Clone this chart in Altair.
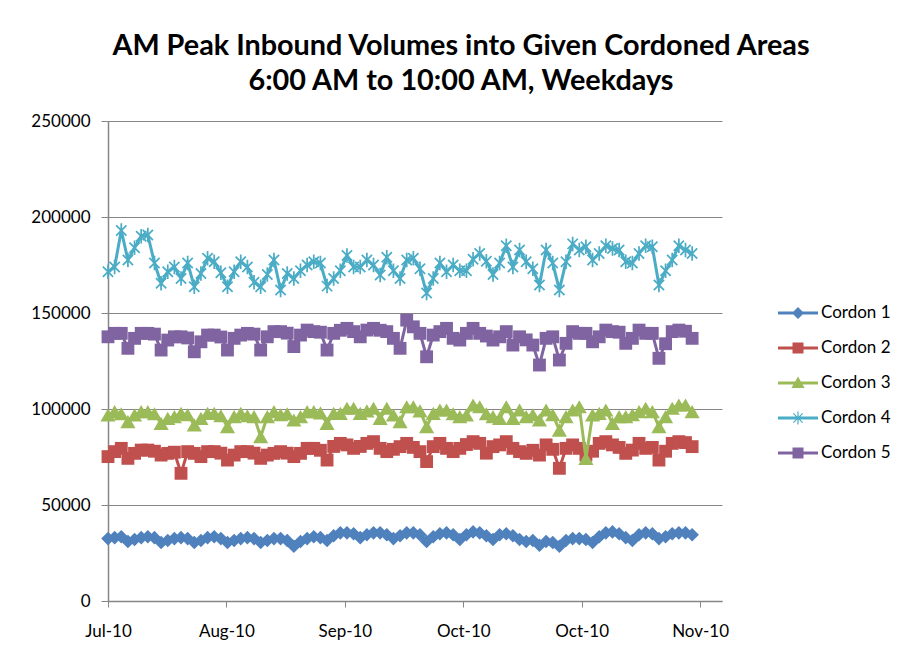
import json
import altair as alt
import pandas as pd

SERIES = ["Cordon 1", "Cordon 2", "Cordon 3", "Cordon 4", "Cordon 5"]
COLORS = ["#4F81BD", "#C0504D", "#9BBB59", "#4BACC6", "#8064A2"]

X_LABELS = ["Jul-10", "Aug-10", "Sep-10", "Oct-10", "Oct-10", "Nov-10"]
X_TICK_STEP = 17.84
X_TICKS = [0, 17.84, 35.68, 53.52, 71.36, 89.2]
Y_TICKS = [0, 50000, 100000, 150000, 200000, 250000]

CORDON_1 = [32500, 33000, 33500, 31000, 32000, 33000, 33500, 33000, 30500, 31500,
            32500, 33000, 32500, 30500, 31500, 33000, 33500, 32500, 30500, 31500,
            32500, 33000, 32500, 30500, 31500, 32500, 32500, 31500, 28500, 31000,
            32500, 33500, 33000, 31500, 34000, 35500, 35500, 35000, 33000, 34500,
            35500, 35500, 34500, 32500, 34000, 35500, 35500, 34500, 31000, 33500,
            35000, 35500, 34500, 32000, 34500, 36000, 35500, 34000, 32000, 34500,
            35000, 34000, 32000, 31000, 31500, 29000, 31000, 30500, 28500, 31500,
            32500, 32500, 32000, 30500, 33500, 35500, 36000, 35000, 33000, 31500,
            34500, 35500, 35000, 32500, 33500, 35000, 35500, 35500, 34500]
CORDON_2 = [75200, 77800, 79500, 74300, 76900, 78600, 78600, 78000, 76000, 76900,
            77500, 66500, 77800, 76900, 75200, 77800, 77800, 77000, 73400, 76000,
            77800, 77800, 77000, 74300, 76000, 76900, 77800, 77000, 75200, 76900,
            79500, 79500, 78500, 73400, 80500, 82100, 81300, 79500, 80500, 82100,
            83000, 79500, 77800, 79000, 80400, 82100, 80000, 77800, 72600, 80400,
            82100, 79500, 77800, 79500, 81500, 83000, 82100, 77000, 80400, 81300,
            83000, 79500, 77800, 76900, 78500, 76000, 81300, 79000, 69100, 79500,
            81300, 79500, 76000, 78000, 82100, 83000, 81300, 80000, 76900, 78600,
            82100, 79500, 80000, 73400, 78000, 82100, 83000, 82500, 80400]
CORDON_3 = [96900, 98600, 97500, 93400, 96900, 98600, 98600, 97500, 92500, 95100,
            96000, 97700, 97000, 91700, 95100, 97700, 97700, 96500, 90800, 96000,
            97700, 96500, 96000, 85600, 96000, 98600, 97000, 97500, 94300, 96000,
            98600, 98600, 98000, 92500, 97700, 97700, 100400, 100400, 97700, 99000,
            100400, 95100, 100400, 96900, 93400, 101200, 101200, 99000, 90800, 97700,
            99500, 99500, 97500, 96000, 96900, 102100, 101200, 97500, 96000, 95100,
            101200, 95100, 99500, 96000, 97000, 94300, 99500, 97000, 89000, 96000,
            99500, 101200, 74300, 96900, 97700, 99500, 92500, 96000, 96000, 97000,
            98600, 100400, 98600, 90800, 96000, 100400, 102100, 102100, 98600]
CORDON_4 = [171500, 174000, 193000, 177600, 184000, 190000, 190600, 176000, 165500, 171500,
            174000, 168000, 176000, 163700, 170600, 178500, 176700, 171000, 163700, 171500,
            176700, 174000, 166000, 163700, 170000, 177600, 162000, 170600, 168000, 172000,
            175000, 176700, 176000, 164000, 168000, 172000, 180000, 174000, 174000, 177600,
            175000, 169800, 179000, 172000, 168000, 177600, 178500, 173000, 160400, 168000,
            176000, 171500, 175000, 172000, 172000, 178000, 181000, 177000, 170000, 176000,
            185000, 174000, 182800, 176700, 173000, 164600, 182800, 176000, 162000, 176700,
            186000, 182800, 184500, 177600, 181000, 185000, 183600, 182800, 176700, 176000,
            181000, 185000, 184500, 164600, 172000, 177600, 185000, 182800, 181000]
CORDON_5 = [137600, 139400, 139400, 131600, 136800, 139400, 139400, 139000, 130700, 135900,
            137600, 137600, 137000, 129800, 135000, 138500, 138500, 137500, 130700, 136800,
            138500, 139400, 139000, 130700, 137600, 140300, 140300, 139500, 132500, 138500,
            141100, 140300, 140000, 130700, 139400, 141000, 142000, 140300, 137600, 141100,
            142000, 141000, 140300, 136800, 131600, 146300, 142800, 139400, 127200, 138500,
            140300, 142000, 136800, 135900, 139400, 142000, 139400, 138000, 135900, 137600,
            140300, 133300, 137600, 136000, 133300, 122900, 136800, 137600, 125500, 134200,
            140300, 139400, 139400, 135000, 137600, 141100, 140300, 140000, 134200, 136800,
            141100, 139400, 139400, 126400, 134000, 140300, 141100, 140500, 136800]
VALUES = [CORDON_1, CORDON_2, CORDON_3, CORDON_4, CORDON_5]

# marker shapes (chart) and combined line+marker symbols (legend)
STAR = ("M-0.12,-1L0.12,-1L0.12,1L-0.12,1Z"
        "M-0.622,-0.792L0.792,0.622L0.622,0.792L-0.792,-0.622Z"
        "M-0.792,0.622L0.622,-0.792L0.792,-0.622L-0.622,0.792Z")
MARKERS = ["diamond", "square", "triangle-up", STAR, "square"]
MARKER_SIZES = [185, 165, 230, 210, 165]

BAR = "M-1,-0.075L1,-0.075L1,0.075L-1,0.075Z"
LEG_DIAMOND = BAR + "M0,-0.3L0.3,0L0,0.3L-0.3,0Z"
LEG_SQUARE = BAR + "M-0.275,-0.275L0.275,-0.275L0.275,0.275L-0.275,0.275Z"
LEG_TRIANGLE = BAR + "M0,-0.32L0.33,0.25L-0.33,0.25Z"
LEG_STAR = (BAR + "M-0.03,-0.33L0.03,-0.33L0.03,0.33L-0.03,0.33Z"
            "M-0.212,-0.254L0.254,0.212L0.212,0.254L-0.254,-0.212Z"
            "M-0.254,0.212L0.212,-0.254L0.254,-0.212L-0.212,0.254Z")
LEGEND_SYMBOLS = [LEG_DIAMOND, LEG_SQUARE, LEG_TRIANGLE, LEG_STAR, LEG_SQUARE]

rows = []
for name, vals in zip(SERIES, VALUES):
    for i, v in enumerate(vals):
        rows.append({"series": name, "idx": i, "volume": v})
df = pd.DataFrame(rows)

FONT = "Lato"
AXIS_GRAY = "#868686"

x_enc = alt.X(
    "idx:Q",
    scale=alt.Scale(domain=[0, 92.5], nice=False, zero=False),
    axis=alt.Axis(values=X_TICKS, labelExpr=f"{json.dumps(X_LABELS)}[round(datum.value / {X_TICK_STEP})]",
                  title=None, grid=False, tickSize=6, labelPadding=16, labelFlush=False,
                  labelOverlap=False),
)
y_enc = alt.Y(
    "volume:Q",
    scale=alt.Scale(domain=[0, 250000], nice=False),
    axis=alt.Axis(values=Y_TICKS, format="d", title=None, grid=True, tickSize=7, labelPadding=11),
)

base = alt.Chart(df)
layers = []
for name, col, shp, sz in zip(SERIES, COLORS, MARKERS, MARKER_SIZES):
    sel = base.transform_filter(alt.datum.series == name)
    layers.append(sel.mark_line(color=col, strokeWidth=3).encode(x=x_enc, y=y_enc))
    layers.append(sel.mark_point(filled=True, color=col, shape=shp, size=sz, opacity=1,
                                 strokeWidth=0).encode(x=x_enc, y=y_enc))

leg = alt.Legend(title=None, orient="none", legendX=670, legendY=172, symbolSize=1600,
                 symbolOpacity=1, symbolStrokeWidth=0, labelFont=FONT, labelFontSize=17,
                 labelColor="black", rowPadding=7, labelOffset=3, padding=0, labelLimit=0)
legend_layer = base.mark_point(filled=True, opacity=0).encode(
    x=x_enc, y=y_enc,
    color=alt.Color("series:N", scale=alt.Scale(domain=SERIES, range=COLORS), legend=leg),
    shape=alt.Shape("series:N", scale=alt.Scale(domain=SERIES, range=LEGEND_SYMBOLS), legend=leg),
)

chart = alt.layer(*layers, legend_layer).properties(
    width=614,
    height=480,
    autosize="none",
    padding={"left": 100, "top": 113, "right": 171, "bottom": 45},
    title=alt.TitleParams(
        text=["AM Peak Inbound Volumes into Given Cordoned Areas", "6:00 AM to 10:00 AM, Weekdays"],
        font=FONT, fontSize=28.8, fontWeight="bold", color="black", anchor="middle",
        lineHeight=35, offset=16, dx=46,
    ),
).configure_view(stroke=None).configure_axis(
    domainColor=AXIS_GRAY, tickColor=AXIS_GRAY, gridColor=AXIS_GRAY, domainWidth=1.5,
    gridWidth=1.2, labelFont=FONT, labelFontSize=17, labelColor="black",
)

chart.save("out.html", embed_options={"renderer": "svg", "actions": False})
